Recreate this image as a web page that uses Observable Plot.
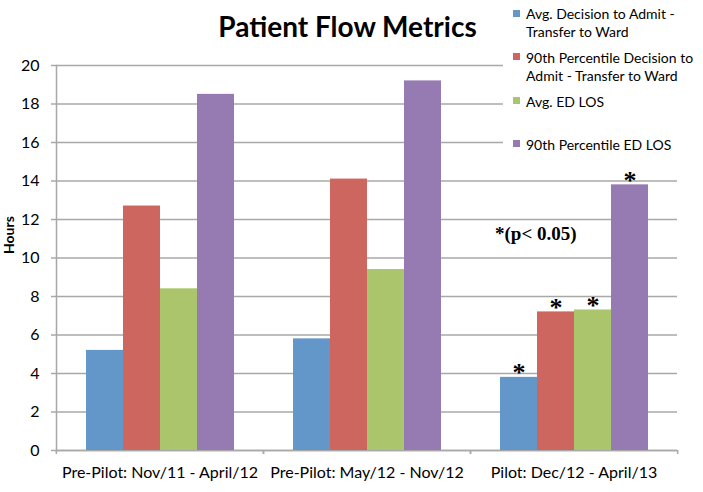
<!DOCTYPE html>
<html>
<head>
<meta charset="utf-8">
<script src="https://cdn.jsdelivr.net/npm/d3@7"></script>
<script src="https://cdn.jsdelivr.net/npm/@observablehq/plot@0.6"></script>
<style>
  html, body { margin: 0; padding: 0; background: #fff; }
  #chart { position: relative; width: 703px; height: 492px; font-family: Lato, sans-serif; color: #000; }
  #chart svg { position: absolute; left: 0; top: 0; }
  .title { position: absolute; left: 0; top: 12.2px; width: 695px; text-align: center;
           font-size: 28px; line-height: 1; font-weight: 700; }
  .legend { position: absolute; left: 503px; top: 0; width: 200px; height: 160px; background: #fff; }
  .legend .entry { position: absolute; left: 10px; display: flex; align-items: flex-start;
                   font-size: 14px; line-height: 17.7px; }
  .legend .swatch { width: 7px; height: 7px; margin-top: 4.2px; margin-right: 6px; flex: none; }
  .legend .label { width: 176px; }
  .note { position: absolute; left: 495px; top: 224.4px; font-family: "Liberation Serif", serif;
          font-weight: 700; font-size: 19px; line-height: 1; white-space: nowrap; }
</style>
</head>
<body>
<div id="chart"></div>
<script>
// Study periods (x categories)
const periods = [
  "Pre-Pilot: Nov/11 - April/12",
  "Pre-Pilot: May/12 - Nov/12",
  "Pilot: Dec/12 - April/13"
];

// Metrics (series)
const metrics = [
  "Avg. Decision to Admit - Transfer to Ward",
  "90th Percentile Decision to Admit - Transfer to Ward",
  "Avg. ED LOS",
  "90th Percentile ED LOS"
];

// Hours per period, one list per metric
const avgAdmitTransfer = [5.2, 5.8, 3.8];
const p90AdmitTransfer = [12.7, 14.1, 7.2];
const avgEdLos = [8.4, 9.4, 7.3];
const p90EdLos = [18.5, 19.2, 13.8];

// Periods whose changes are significant (p < 0.05)
const significant = [false, false, true];

const yTicks = [0, 2, 4, 6, 8, 10, 12, 14, 16, 18, 20];
const colors = ["#6497c9", "#cd665e", "#abc56d", "#957bb2"];

const seriesValues = [avgAdmitTransfer, p90AdmitTransfer, avgEdLos, p90EdLos];
const rows = periods.flatMap((period, i) =>
  metrics.map((metric, j) => ({period, metric, hours: seriesValues[j][i], sig: significant[i]}))
);

const width = 703, height = 492;
const marginLeft = 55, marginRight = 26, marginTop = 65, marginBottom = 42;
const step = (width - marginLeft - marginRight) / periods.length;
const gray = "#a8a8a8";

const chart = Plot.plot({
  width, height, marginLeft, marginRight, marginTop, marginBottom,
  style: {fontFamily: "Lato, sans-serif", background: "transparent", color: "#000", overflow: "visible"},
  fx: {domain: periods, padding: 0, label: null},
  x: {domain: metrics, paddingInner: 0, paddingOuter: 0.764, axis: null},
  y: {domain: [0, 20], axis: null},
  color: {domain: metrics, range: colors},
  marks: [
    Plot.gridY({ticks: yTicks, stroke: gray, strokeOpacity: 1, strokeWidth: 1.5}),
    Plot.ruleY([0], {stroke: gray, strokeWidth: 1.5}),
    Plot.frame({anchor: "left", facetAnchor: "left", stroke: gray, strokeWidth: 1.5}),
    Plot.axisY({ticks: yTicks, tickSize: 5, tickPadding: 12, fontSize: 16, label: null,
                stroke: gray, strokeWidth: 1.5, strokeOpacity: 1}),
    // category boundary ticks below the baseline
    Plot.axisFx({anchor: "bottom", tickSize: 4, tickFormat: () => "", label: null,
                 dx: -step / 2, stroke: gray, strokeWidth: 1.5}),
    Plot.axisFx({anchor: "bottom", tickSize: 4, tickFormat: () => "", label: null,
                 dx: step / 2, stroke: gray, strokeWidth: 1.5}),
    Plot.axisFx({anchor: "bottom", tickSize: 0, tickPadding: 16.6, fontSize: 16, label: null}),
    Plot.barY(rows, {fx: "period", x: "metric", y: "hours", fill: "metric"}),
    // significance markers
    Plot.text(rows.filter((d) => d.sig), {
      fx: "period", x: "metric", y: "hours", text: () => "*",
      lineAnchor: "bottom", dy: 4, fontSize: 26, fontWeight: "bold",
      fontFamily: "Liberation Serif, serif"
    }),
    Plot.text(["Hours"], {
      text: (d) => d, frameAnchor: "left", facetAnchor: "left", rotate: -90,
      dx: -46.5, dy: -4, lineAnchor: "middle", fontWeight: "bold", fontSize: 14
    })
  ]
});

const root = document.getElementById("chart");
root.appendChild(chart);

const title = document.createElement("div");
title.className = "title";
title.textContent = "Patient Flow Metrics";
root.appendChild(title);

const legend = document.createElement("div");
legend.className = "legend";
metrics.forEach((m, i) => {
  const entry = document.createElement("div");
  entry.className = "entry";
  entry.style.top = (5.4 + i * 43.6) + "px";
  const sw = document.createElement("div");
  sw.className = "swatch";
  sw.style.background = colors[i];
  const label = document.createElement("div");
  label.className = "label";
  label.textContent = m;
  entry.appendChild(sw);
  entry.appendChild(label);
  legend.appendChild(entry);
});
root.appendChild(legend);

const note = document.createElement("div");
note.className = "note";
note.textContent = "*(p< 0.05)";
root.appendChild(note);
</script>
</body>
</html>
